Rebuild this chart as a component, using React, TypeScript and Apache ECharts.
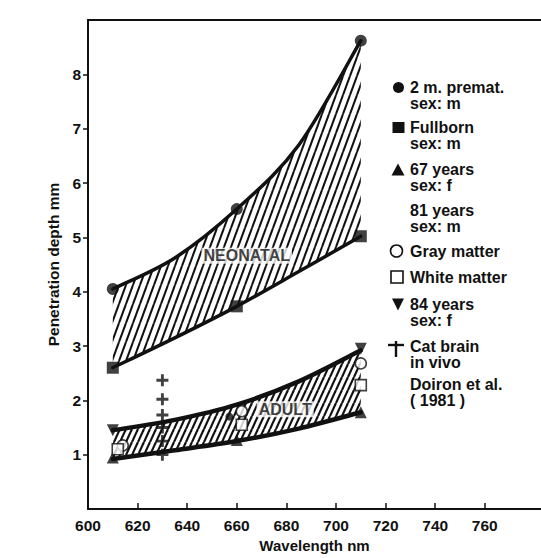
import React, { useEffect, useRef } from "react";
import * as echarts from "echarts";

const INK = "#111";
const FONT = '"Liberation Sans", Arial, sans-serif';

// Axis ticks
const X_TICKS = [600, 620, 640, 660, 680, 700, 720, 740, 760];
const Y_TICKS = [1, 2, 3, 4, 5, 6, 7, 8];

// Measured penetration depths (wavelength nm, depth mm)
const premat: number[][] = [[610, 4.05], [660, 5.52], [710, 8.62]];
const fullborn: number[][] = [[610, 2.6], [660, 3.73], [710, 5.02]];
const years67: number[][] = [[610, 0.95], [660, 1.27], [710, 1.78]];
const years81: number[][] = [[657, 1.7]];
const grayMatter: number[][] = [[614, 1.17], [662, 1.8], [710, 2.68]];
const whiteMatter: number[][] = [[612, 1.1], [662, 1.55], [710, 2.28]];
const years84: number[][] = [[610, 1.45], [710, 2.95]];
const catBrain: number[][] = [[630, 2.37], [630, 2.02], [630, 1.73], [630, 1.5], [630, 1.25], [630, 1.0]];

// Envelope outlines of the two groups
const bandX = [610, 635, 660, 685, 710];
const neonatalUpper = [4.05, 4.62, 5.52, 6.7, 8.62];
const neonatalLower = [2.6, 3.15, 3.73, 4.37, 5.02];
const adultUpper = [1.45, 1.64, 1.92, 2.35, 2.92];
const adultLower = [0.92, 1.08, 1.25, 1.48, 1.78];

// Group names written inside the envelopes
const bandNames = ["NEONATAL", "ADULT"];
const bandNamePos: number[][] = [[664, 4.66], [679.5, 1.835]];

// Key entries
const keyLabels: string[][] = [
  ["2 m. premat.", "sex: m"],
  ["Fullborn", "sex: m"],
  ["67 years", "sex: f"],
  ["81 years", "sex: m"],
  ["Gray matter"],
  ["White matter"],
  ["84 years", "sex: f"],
  ["Cat brain", "in vivo"],
  ["Doiron et al.", "( 1981 )"],
];
const keySymbols = ["dot", "square", "triangle", "none", "ring", "box", "triangleDown", "plus", "none"];

const KEY_ROW_Y = [87.5, 127.5, 169.5, 210, 251, 277, 304.5, 346, 384];
const KEY_LINE_H = 16;
const KEY_FONT = 16;
const KEY_TEXT_X = 410;
const KEY_SYMBOL_X = 398;

const PLUS_PATH = "path://M3.8,0h2.4v3.8h3.8v2.4h-3.8v3.8h-2.4v-3.8h-3.8v-2.4h3.8z";

function hatch(w: number, h: number, lw: number) {
  const c = document.createElement("canvas");
  c.width = w;
  c.height = h;
  const ctx = c.getContext("2d")!;
  ctx.fillStyle = "#fff";
  ctx.fillRect(0, 0, w, h);
  ctx.strokeStyle = INK;
  ctx.lineWidth = lw;
  for (const x0 of [-w, 0, w]) {
    ctx.beginPath();
    ctx.moveTo(x0, h);
    ctx.lineTo(x0 + w, 0);
    ctx.stroke();
  }
  return { image: c, repeat: "repeat", imageWidth: w, imageHeight: h } as any;
}

function keyGraphics() {
  const els: any[] = [];
  keyLabels.forEach((lines, i) => {
    const y = KEY_ROW_Y[i];
    els.push({
      type: "text",
      x: KEY_TEXT_X,
      y: y - KEY_LINE_H / 2,
      style: {
        text: lines.join("\n"),
        fill: INK,
        font: `bold ${KEY_FONT}px ${FONT}`,
        lineHeight: KEY_LINE_H,
        verticalAlign: "top",
        align: "left",
      },
    });
    const cx = KEY_SYMBOL_X;
    switch (keySymbols[i]) {
      case "dot":
        els.push({ type: "circle", shape: { cx: cx + 0.5, cy: y, r: 5.5 }, style: { fill: INK } });
        break;
      case "square":
        els.push({ type: "rect", shape: { x: cx - 5.5, y: y - 5.5, width: 12, height: 11 }, style: { fill: INK } });
        break;
      case "triangle":
        els.push({ type: "polygon", shape: { points: [[cx, y - 6], [cx + 6.5, y + 6], [cx - 6.5, y + 6]] }, style: { fill: INK } });
        break;
      case "ring":
        els.push({ type: "circle", shape: { cx: cx - 1.5, cy: y, r: 6 }, style: { fill: "#fff", stroke: INK, lineWidth: 1.6 } });
        break;
      case "box":
        els.push({ type: "rect", shape: { x: cx - 7, y: y - 6, width: 12, height: 12 }, style: { fill: "#fff", stroke: INK, lineWidth: 1.6 } });
        break;
      case "triangleDown":
        els.push({ type: "polygon", shape: { points: [[cx - 6, y - 6], [cx + 6, y - 6], [cx, y + 6]] }, style: { fill: INK } });
        break;
      case "plus":
        els.push({ type: "line", shape: { x1: cx - 10, y1: y - 1, x2: cx + 6, y2: y - 1 }, style: { stroke: INK, lineWidth: 2.4 } });
        els.push({ type: "line", shape: { x1: cx - 2, y1: y - 5, x2: cx - 2, y2: y + 11 }, style: { stroke: INK, lineWidth: 2.4 } });
        break;
      default:
        break;
    }
  });
  return els;
}

// Catmull-Rom curve through pixel points, as cubic Bezier commands
function curveSegments(pts: number[][]): string {
  let d = "";
  const n = pts.length;
  for (let i = 0; i < n - 1; i++) {
    const p0 = pts[Math.max(i - 1, 0)];
    const p1 = pts[i];
    const p2 = pts[i + 1];
    const p3 = pts[Math.min(i + 2, n - 1)];
    const t = 1 / 6;
    const c1x = p1[0] + (p2[0] - p0[0]) * t;
    const c1y = p1[1] + (p2[1] - p0[1]) * t;
    const c2x = p2[0] - (p3[0] - p1[0]) * t;
    const c2y = p2[1] - (p3[1] - p1[1]) * t;
    d += ` C${c1x},${c1y} ${c2x},${c2y} ${p2[0]},${p2[1]}`;
  }
  return d;
}

function band(xs: number[], upper: number[], lower: number[], fill: any, width: number, z: number) {
  return {
    type: "custom",
    coordinateSystem: "cartesian2d",
    silent: true,
    z,
    data: [[xs[0], upper[0]]],
    renderItem: (_params: any, api: any) => {
      const up = xs.map((x, i) => api.coord([x, upper[i]]));
      const lo = xs.map((x, i) => api.coord([x, lower[i]]));
      const loRev = lo.slice().reverse();
      const upD = `M${up[0][0]},${up[0][1]}` + curveSegments(up);
      const loD = `M${lo[0][0]},${lo[0][1]}` + curveSegments(lo);
      const areaD = upD + ` L${loRev[0][0]},${loRev[0][1]}` + curveSegments(loRev) + " Z";
      const stroke = { fill: "none", stroke: INK, lineWidth: width, lineJoin: "round", lineCap: "round" };
      return {
        type: "group",
        children: [
          { type: "path", shape: { pathData: areaD }, style: { fill, stroke: "none" } },
          { type: "path", shape: { pathData: upD }, style: stroke },
          { type: "path", shape: { pathData: loD }, style: stroke },
        ],
      };
    },
  };
}

function marks(data: number[][], symbol: string, size: number, itemStyle: any, extra: any = {}) {
  return { type: "scatter", data, symbol, symbolSize: size, itemStyle, silent: true, z: 30, ...extra };
}

export default function App() {
  const ref = useRef<HTMLDivElement>(null);

  useEffect(() => {
    if (!ref.current) return;
    const chart = echarts.init(ref.current, null, { renderer: "svg" });
    const xMax = 600 + (541 - 88) / 2.48;
    const axisText = { color: INK, fontSize: 15, fontWeight: "bold", fontFamily: FONT };
    const solid = { color: INK };
    const hollow = { color: "#fff", borderColor: INK, borderWidth: 1.6 };

    chart.setOption({
      animation: false,
      backgroundColor: "#fff",
      grid: { left: 88, right: 0, top: 20, bottom: 46 },
      xAxis: [
        {
          type: "value",
          min: 600,
          max: xMax,
          position: "bottom",
          z: 20,
          name: "Wavelength nm",
          nameLocation: "middle",
          nameGap: 29,
          nameTextStyle: axisText,
          axisLine: { show: true, lineStyle: { color: INK, width: 2 } },
          axisTick: { show: true, inside: true, length: 6, lineStyle: { color: INK, width: 1.5 }, customValues: X_TICKS.slice(1) },
          axisLabel: { ...axisText, fontSize: 15.5, margin: 8, customValues: X_TICKS },
          splitLine: { show: false },
        },
        {
          type: "value",
          min: 600,
          max: xMax,
          position: "top",
          z: 20,
          axisLine: { show: true, lineStyle: { color: INK, width: 2 } },
          axisTick: { show: false },
          axisLabel: { show: false },
          splitLine: { show: false },
        },
      ],
      yAxis: {
        type: "value",
        min: 0,
        max: 9,
        interval: 1,
        z: 20,
        name: "Penetration depth mm",
        nameLocation: "middle",
        nameGap: 26,
        nameTextStyle: { ...axisText, fontSize: 15.5 },
        axisLine: { show: true, lineStyle: { color: INK, width: 2 } },
        axisTick: { show: true, length: 5, lineStyle: { color: INK, width: 1.5 }, customValues: Y_TICKS },
        axisLabel: { ...axisText, fontSize: 15.5, margin: 7, customValues: Y_TICKS },
        splitLine: { show: false },
      },
      graphic: keyGraphics(),
      series: [
        band(bandX, neonatalUpper, neonatalLower, hatch(7, 19, 2), 3.5, 2),
        band(bandX, adultUpper, adultLower, hatch(6, 13, 2.2), 4.5, 3),
        {
          type: "scatter",
          data: bandNamePos,
          symbolSize: 1,
          itemStyle: { color: "rgba(0,0,0,0)" },
          silent: true,
          z: 25,
          label: {
            show: true,
            position: "inside",
            formatter: (p: any) => bandNames[p.dataIndex],
            ...axisText,
            fontSize: 16,
            backgroundColor: "#fff",
            padding: [0, 2],
          },
        },
        marks(premat, "circle", 12, solid),
        marks(fullborn, "rect", 12, solid),
        marks(years67, "triangle", 12, solid),
        marks(years81, "circle", 8, solid),
        marks(grayMatter, "circle", 11, hollow),
        marks(whiteMatter, "rect", 11, hollow),
        marks(years84, "triangle", 12, solid, { symbolRotate: 180 }),
        marks(catBrain, PLUS_PATH, 12, solid),
      ],
    });
    return () => chart.dispose();
  }, []);

  return (
    <div
      ref={ref}
      style={{ position: "fixed", left: 0, top: 0, width: 541, height: 558, background: "#fff" }}
    />
  );
}
